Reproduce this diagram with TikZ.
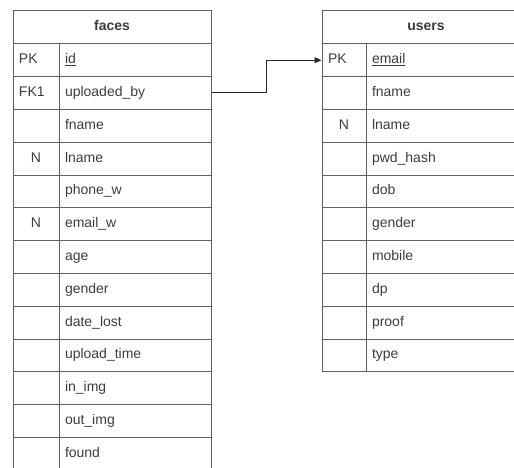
\documentclass[tikz,border=0pt]{standalone}
\usepackage{fontspec}
\setmainfont{Liberation Sans}
\usetikzlibrary{arrows.meta}
\definecolor{ERLine}{RGB}{95,95,95}
\definecolor{ERText}{RGB}{60,60,60}
\begin{document}
\begin{tikzpicture}[x=1pt,y=-1pt,>={Triangle[length=7pt,width=6pt]},
    cell/.style={draw=ERLine,line width=1pt,text=ERText,font=\fontsize{14}{16}\selectfont,
      minimum height=32.8pt,text height=10pt,text depth=3pt},
    title/.style={cell,font=\fontsize{14}{16}\selectfont\bfseries,inner sep=0pt},
    keyl/.style={cell,align=left,inner xsep=6pt,text width=#1},
    keyc/.style={cell,align=center,inner xsep=0pt,text width=#1},
    field/.style={cell,align=left,inner xsep=6pt,text width=#1}]
      \useasboundingbox (0,0) rectangle (514,468);
      \clip (0,0) rectangle (514,468);
      % faces table
      \node[title,minimum width=198pt] (faces) at (112,27.4) {faces};
      \node[keyl=34pt] (f-id-k) at (36,60.2) {PK};
      \node[field=140pt] (f-id) at (135,60.2) {\underline{id}};
      \node[keyl=34pt] (f-upl-k) at (36,93) {FK1};
      \node[field=140pt] (f-upl) at (135,93) {uploaded\_by};
      \node[keyl=34pt] (f-fn-k) at (36,125.8) {};
      \node[field=140pt] (f-fn) at (135,125.8) {fname};
      \node[keyc=46pt] (f-ln-k) at (36,158.6) {N};
      \node[field=140pt] (f-ln) at (135,158.6) {lname};
      \node[keyl=34pt] (f-ph-k) at (36,191.4) {};
      \node[field=140pt] (f-ph) at (135,191.4) {phone\_w};
      \node[keyc=46pt] (f-em-k) at (36,224.2) {N};
      \node[field=140pt] (f-em) at (135,224.2) {email\_w};
      \node[keyl=34pt] (f-age-k) at (36,257) {};
      \node[field=140pt] (f-age) at (135,257) {age};
      \node[keyl=34pt] (f-gen-k) at (36,289.8) {};
      \node[field=140pt] (f-gen) at (135,289.8) {gender};
      \node[keyl=34pt] (f-dl-k) at (36,322.6) {};
      \node[field=140pt] (f-dl) at (135,322.6) {date\_lost};
      \node[keyl=34pt] (f-up-k) at (36,355.4) {};
      \node[field=140pt] (f-up) at (135,355.4) {upload\_time};
      \node[keyl=34pt] (f-in-k) at (36,388.2) {};
      \node[field=140pt] (f-in) at (135,388.2) {in\_img};
      \node[keyl=34pt] (f-out-k) at (36,421) {};
      \node[field=140pt] (f-out) at (135,421) {out\_img};
      \node[keyl=34pt] (f-fd-k) at (36,453.8) {};
      \node[field=140pt] (f-fd) at (135,453.8) {found};
      % users table
      \node[title,minimum width=208pt] (users) at (426,27.4) {users};
      \node[keyl=32pt] (u-em-k) at (344,60.2) {PK};
      \node[field=152pt] (u-em) at (448,60.2) {\underline{email}};
      \node[keyl=32pt] (u-fn-k) at (344,93) {};
      \node[field=152pt] (u-fn) at (448,93) {fname};
      \node[keyc=44pt] (u-ln-k) at (344,125.8) {N};
      \node[field=152pt] (u-ln) at (448,125.8) {lname};
      \node[keyl=32pt] (u-pw-k) at (344,158.6) {};
      \node[field=152pt] (u-pw) at (448,158.6) {pwd\_hash};
      \node[keyl=32pt] (u-dob-k) at (344,191.4) {};
      \node[field=152pt] (u-dob) at (448,191.4) {dob};
      \node[keyl=32pt] (u-gen-k) at (344,224.2) {};
      \node[field=152pt] (u-gen) at (448,224.2) {gender};
      \node[keyl=32pt] (u-mob-k) at (344,257) {};
      \node[field=152pt] (u-mob) at (448,257) {mobile};
      \node[keyl=32pt] (u-dp-k) at (344,289.8) {};
      \node[field=152pt] (u-dp) at (448,289.8) {dp};
      \node[keyl=32pt] (u-pr-k) at (344,322.6) {};
      \node[field=152pt] (u-pr) at (448,322.6) {proof};
      \node[keyl=32pt] (u-ty-k) at (344,355.4) {};
      \node[field=152pt] (u-ty) at (448,355.4) {type};
      % foreign key
      \draw[->,line width=1pt,black!85] (f-upl.east) -- ++(55,0) |- (u-em-k.west);
    \end{tikzpicture}
\end{document}
